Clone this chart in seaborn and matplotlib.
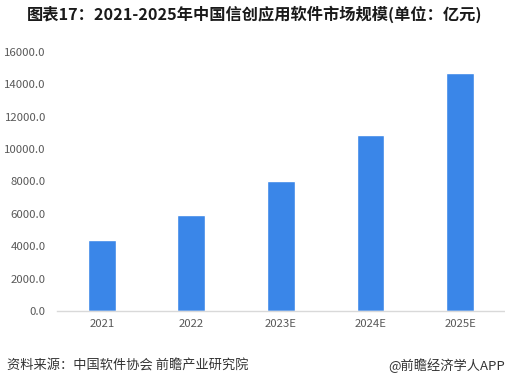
import pandas as pd
import matplotlib
matplotlib.use("Agg")
import matplotlib.pyplot as plt
import seaborn as sns

years = ["2021", "2022", "2023E", "2024E", "2025E"]
market_size = [4390, 5930, 8030, 10870, 14700]

df = pd.DataFrame({"year": years, "size": market_size})

sns.set_style("white")
plt.rcParams["font.family"] = ["Noto Sans CJK SC", "DejaVu Sans"]

fig = plt.figure(figsize=(5.06, 3.86), dpi=100)
ax = fig.add_axes([0.1126, 0.1943, 0.8854, 0.671])

sns.barplot(data=df, x="year", y="size", color="#3A86E8", width=0.31,
            saturation=1, ax=ax)

ax.set_ylim(0, 16000)
ax.set_xlim(-0.5, 4.5)
ax.set_yticks(range(0, 16001, 2000))
ax.set_yticklabels([f"{v:.1f}" for v in range(0, 16001, 2000)])
ax.set_xlabel("")
ax.set_ylabel("")
ax.tick_params(axis="both", length=0, labelsize=8.2, colors="#595959")
ax.tick_params(axis="y", pad=8)
ax.tick_params(axis="x", pad=6)

for s in ["top", "right", "left"]:
    ax.spines[s].set_visible(False)
ax.spines["bottom"].set_color("#d9d9d9")
ax.spines["bottom"].set_linewidth(1)

fig.text(0.053, 0.962, "图表17：2021-2025年中国信创应用软件市场规模(单位：亿元)",
         fontsize=11.7, fontweight="bold", color="#1a1a1a", va="center", ha="left")
fig.text(0.014, 0.052, "资料来源：中国软件协会 前瞻产业研究院",
         fontsize=9.5, color="#333333", va="center", ha="left")
fig.text(0.998, 0.052, "@前瞻经济学人APP",
         fontsize=9.5, color="#333333", va="center", ha="right")

fig.savefig("out.png", dpi=100)
